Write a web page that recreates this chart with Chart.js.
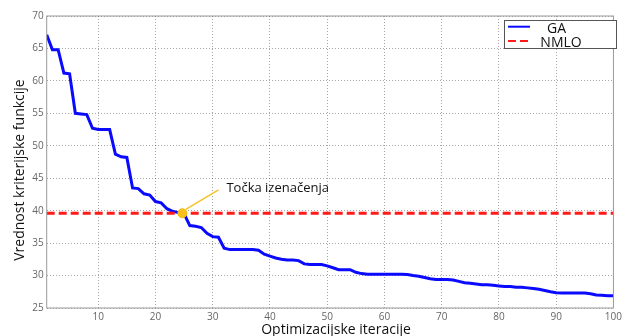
<!DOCTYPE html>
<html><head><meta charset="utf-8">
<script src="https://cdn.jsdelivr.net/npm/chart.js@4"></script>
<style>html,body{margin:0;padding:0;background:#fff;overflow:hidden}#wrap{width:625px;height:336px;position:relative}</style>
</head><body><div id="wrap"><canvas id="c" width="625" height="336"></canvas></div>
<script>
const iterations = [1,2,3,4,5,6,7,8,9,10,11,12,13,14,15,16,17,18,19,20,21,22,23,24,25,26,27,28,29,30,31,32,33,34,35,36,37,38,39,40,41,42,43,44,45,46,47,48,49,50,51,52,53,54,55,56,57,58,59,60,61,62,63,64,65,66,67,68,69,70,71,72,73,74,75,76,77,78,79,80,81,82,83,84,85,86,87,88,89,90,91,92,93,94,95,96,97,98,99,100];
const gaValues = [67.1,64.8,64.8,61.2,61.1,55.0,54.9,54.8,52.7,52.5,52.5,52.5,48.7,48.3,48.2,43.5,43.4,42.6,42.4,41.4,41.2,40.3,39.9,39.7,39.5,37.7,37.6,37.4,36.5,36.0,35.9,34.2,34.0,34.0,34.0,34.0,34.0,33.9,33.3,33.0,32.7,32.5,32.4,32.4,32.3,31.8,31.7,31.7,31.7,31.5,31.2,30.9,30.9,30.9,30.5,30.3,30.2,30.2,30.2,30.2,30.2,30.2,30.2,30.15,30.0,29.9,29.7,29.5,29.4,29.4,29.4,29.3,29.1,28.9,28.8,28.7,28.6,28.6,28.5,28.4,28.3,28.3,28.2,28.2,28.1,28.0,27.9,27.7,27.5,27.35,27.3,27.3,27.3,27.3,27.3,27.2,27.0,26.95,26.9,26.9];
const nmloX = [1, 100];
const nmloValues = [39.6, 39.6];
const xTickValues = [10,20,30,40,50,60,70,80,90,100];
const yTickValues = [25,30,35,40,45,50,55,60,65,70];
const seriesLabels = ['GA', 'NMLO'];
const xAxisTitle = 'Optimizacijske iteracije';
const yAxisTitle = 'Vrednost kriterijske funkcije';
const matchPoint = [24.7, 39.6];
const matchLabel = 'Točka izenačenja';
const matchLeaderEnd = [31.0, 43.2];
const matchLeaderStart = [25.3, 40.2];
const matchTextAt = [32.4, 43.45];

const FONT = '"Open Sans", "Noto Sans", sans-serif';

const decorPlugin = {
  id: 'decor',
  afterDatasetsDraw(chart) {
    const ctx = chart.ctx, a = chart.chartArea;
    const xs = chart.scales.x, ys = chart.scales.y;
    ctx.save();
    // box border
    ctx.strokeStyle = '#9a9a9a';
    ctx.lineWidth = 1;
    ctx.strokeRect(a.left, a.top, a.right - a.left, a.bottom - a.top);
    // annotation leader
    ctx.strokeStyle = '#f7c22a';
    ctx.lineWidth = 1.5;
    ctx.beginPath();
    ctx.moveTo(xs.getPixelForValue(matchLeaderStart[0]), ys.getPixelForValue(matchLeaderStart[1]));
    ctx.lineTo(xs.getPixelForValue(matchLeaderEnd[0]), ys.getPixelForValue(matchLeaderEnd[1]));
    ctx.stroke();
    ctx.fillStyle = '#111';
    ctx.font = '13px ' + FONT;
    ctx.textAlign = 'left';
    ctx.textBaseline = 'middle';
    ctx.fillText(matchLabel, xs.getPixelForValue(matchTextAt[0]), ys.getPixelForValue(matchTextAt[1]));
    // legend
    const lx = 504.5, ly = 20.5, lw = 112, lh = 28;
    ctx.fillStyle = '#fff';
    ctx.fillRect(lx, ly, lw, lh);
    ctx.strokeStyle = '#555';
    ctx.lineWidth = 1;
    ctx.strokeRect(lx, ly, lw, lh);
    const ds = chart.data.datasets;
    const rows = [26.7, 41];
    for (let i = 0; i < 2; i++) {
      ctx.strokeStyle = ds[i].borderColor;
      ctx.lineWidth = 2;
      ctx.setLineDash(ds[i].borderDash || []);
      ctx.beginPath();
      ctx.moveTo(508, rows[i]);
      ctx.lineTo(530, rows[i]);
      ctx.stroke();
      ctx.setLineDash([]);
    }
    ctx.fillStyle = '#111';
    ctx.font = '14px ' + FONT;
    ctx.textAlign = 'center';
    ctx.textBaseline = 'middle';
    ctx.fillText(ds[0].label, 556.5, 29.5);
    ctx.fillText(ds[1].label, 561, 43);
    // axis titles
    ctx.font = '14px ' + FONT;
    ctx.textAlign = 'center';
    ctx.textBaseline = 'alphabetic';
    ctx.fillText(xAxisTitle, 336, 334);
    ctx.translate(24, 170);
    ctx.rotate(-Math.PI / 2);
    ctx.textBaseline = 'alphabetic';
    ctx.fillText(yAxisTitle, 0, 0);
    ctx.restore();
  }
};

const bgPlugin = {
  id: 'bg',
  beforeDraw(chart) {
    const ctx = chart.ctx;
    ctx.save();
    ctx.fillStyle = '#fff';
    ctx.fillRect(0, 0, chart.width, chart.height);
    ctx.restore();
  }
};

new Chart(document.getElementById('c'), {
  type: 'line',
  data: {
    datasets: [
      {
        label: seriesLabels[0],
        data: iterations.map((x, i) => ({x: x, y: gaValues[i]})),
        borderColor: '#0a0aff',
        borderWidth: 3,
        pointRadius: 0,
        tension: 0,
        fill: false,
        order: 2
      },
      {
        label: seriesLabels[1],
        data: nmloX.map((x, i) => ({x: x, y: nmloValues[i]})),
        borderColor: '#ff1a1a',
        borderDash: [8, 4],
        borderWidth: 3,
        pointRadius: 0,
        fill: false,
        order: 1
      },
      {
        label: matchLabel,
        data: [{x: matchPoint[0], y: matchPoint[1]}],
        borderColor: '#f5b90a',
        backgroundColor: '#f8c21a',
        pointRadius: 4.5,
        showLine: false,
        order: 0
      }
    ]
  },
  options: {
    responsive: false,
    animation: false,
    devicePixelRatio: 1,
    layout: { padding: { left: 0, right: 5, top: 16, bottom: 0 } },
    plugins: { legend: { display: false }, tooltip: { enabled: false } },
    scales: {
      x: {
        type: 'linear',
        min: 1, max: 100,
        afterBuildTicks(scale) { scale.ticks = xTickValues.map(v => ({value: v})); },
        afterFit(scale) { scale.height = 28; },
        grid: { color: 'rgba(0,0,0,0.35)', drawTicks: false, lineWidth: 1 },
        border: { display: false, dash: [1, 2] },
        ticks: { color: '#666', font: { size: 10, family: FONT }, padding: 3, maxRotation: 0, autoSkip: false }
      },
      y: {
        type: 'linear',
        min: 25, max: 70,
        afterBuildTicks(scale) { scale.ticks = yTickValues.map(v => ({value: v})); },
        afterFit(scale) { scale.width = 46.7; },
        grid: { color: 'rgba(0,0,0,0.35)', drawTicks: false, lineWidth: 1 },
        border: { display: false, dash: [1, 2] },
        ticks: { color: '#666', font: { size: 10, family: FONT }, padding: 3, autoSkip: false }
      }
    }
  },
  plugins: [bgPlugin, decorPlugin]
});
</script></body></html>
